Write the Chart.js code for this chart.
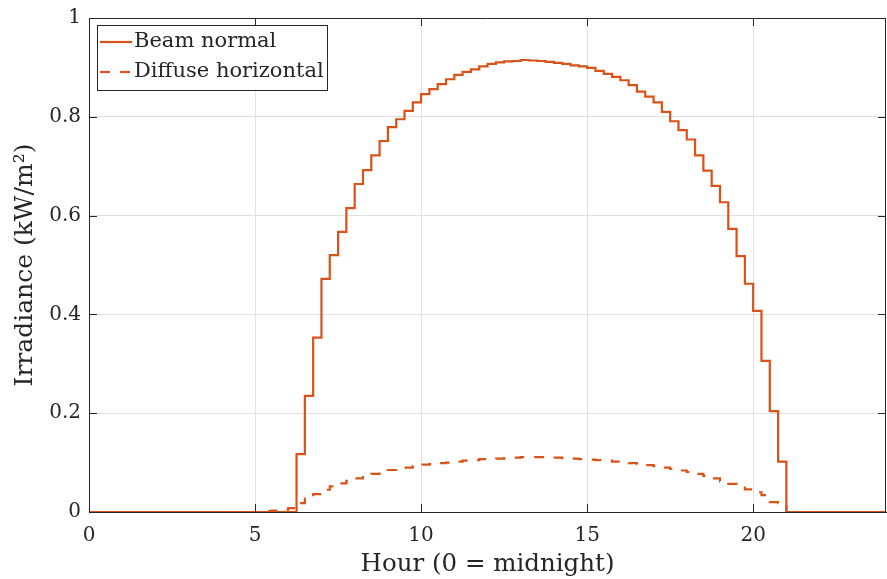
<!DOCTYPE html>
<html>
<head>
<meta charset="utf-8">
<script src="https://cdn.jsdelivr.net/npm/chart.js@4.4.1/dist/chart.umd.min.js"></script>
<style>
  html, body { margin: 0; padding: 0; background: #ffffff; }
  #wrap { width: 887px; height: 579px; position: relative; }
</style>
</head>
<body>
<div id="wrap"><canvas id="c" width="887" height="579"></canvas></div>
<script>
// Time step (hours) between samples: samples at 0, 0.25, ..., 24
const stepHours = 0.25;

// Beam normal irradiance (kW/m^2), one value per 15-minute interval starting at hour 0
const beamNormal = [
  0, 0, 0, 0, 0, 0, 0, 0,           // 0:00 - 1:45
  0, 0, 0, 0, 0, 0, 0, 0,           // 2:00 - 3:45
  0, 0, 0, 0, 0, 0, 0, 0,           // 4:00 - 5:45
  0, 0.117, 0.235, 0.353,           // 6:00 - 6:45
  0.472, 0.520, 0.567, 0.615,       // 7:00 - 7:45
  0.664, 0.692, 0.722, 0.751,       // 8:00 - 8:45
  0.779, 0.795, 0.812, 0.829,       // 9:00
  0.846, 0.856, 0.866, 0.876,       // 10:00
  0.885, 0.891, 0.896, 0.902,       // 11:00
  0.907, 0.910, 0.912, 0.913,       // 12:00
  0.915, 0.914, 0.913, 0.911,       // 13:00
  0.909, 0.907, 0.904, 0.902,       // 14:00
  0.899, 0.893, 0.887, 0.881,       // 15:00
  0.874, 0.864, 0.851, 0.841,       // 16:00
  0.829, 0.810, 0.791, 0.773,       // 17:00
  0.754, 0.722, 0.691, 0.660,       // 18:00
  0.627, 0.573, 0.518, 0.462,       // 19:00
  0.407, 0.306, 0.204, 0.102,       // 20:00
  0, 0, 0, 0, 0, 0, 0, 0,           // 21:00 - 22:45
  0, 0, 0, 0,                       // 23:00 - 23:45
  0                                 // 24:00
];

// Diffuse horizontal irradiance (kW/m^2)
const diffuseHorizontal = [
  0, 0, 0, 0, 0, 0, 0, 0,
  0, 0, 0, 0, 0, 0, 0, 0,
  0, 0, 0, 0, 0, 0.002, 0.003, 0.005,
  0.008, 0.018, 0.027, 0.036,       // 6:00
  0.045, 0.052, 0.058, 0.063,       // 7:00
  0.068, 0.073, 0.077, 0.081,       // 8:00
  0.085, 0.088, 0.090, 0.093,       // 9:00
  0.096, 0.097, 0.099, 0.100,       // 10:00
  0.102, 0.104, 0.105, 0.107,       // 11:00
  0.107, 0.108, 0.109, 0.110,       // 12:00
  0.111, 0.111, 0.111, 0.110,       // 13:00
  0.110, 0.109, 0.108, 0.107,       // 14:00
  0.106, 0.105, 0.104, 0.102,       // 15:00
  0.100, 0.099, 0.097, 0.095,       // 16:00
  0.093, 0.090, 0.087, 0.084,       // 17:00
  0.081, 0.077, 0.073, 0.068,       // 18:00
  0.062, 0.057, 0.052, 0.046,       // 19:00
  0.040, 0.034, 0.020, 0.018,       // 20:00
  0, 0, 0, 0, 0, 0, 0, 0,
  0, 0, 0, 0,
  0
];

const seriesNames = ['Beam normal', 'Diffuse horizontal'];
const xTitle = 'Hour (0 = midnight)';
const yTitle = 'Irradiance (kW/m\u00B2)';
const xTickValues = [0, 5, 10, 15, 20];
const yTickValues = [0, 0.2, 0.4, 0.6, 0.8, 1];

const lineColor = '#D95319';
const axisColor = '#262626';
const gridColor = '#e1e1e1';
const fontFamily = '"DejaVu Serif", "Liberation Serif", serif';

function toPoints(values) {
  return values.map((v, i) => ({ x: i * stepHours, y: v }));
}

const decor = {
  id: 'decor',
  afterDraw(chart) {
    const ctx = chart.ctx;
    const a = chart.chartArea;
    const xs = chart.scales.x, ys = chart.scales.y;
    ctx.save();
    ctx.strokeStyle = axisColor;
    ctx.lineWidth = 1;
    ctx.beginPath();
    ctx.moveTo(a.left, a.top + 0.5);
    ctx.lineTo(a.right, a.top + 0.5);
    ctx.moveTo(a.right - 0.5, a.top);
    ctx.lineTo(a.right - 0.5, a.bottom);
    ctx.stroke();
    const tl = 8;
    ctx.beginPath();
    xTickValues.forEach(v => {
      const px = Math.round(xs.getPixelForValue(v)) + 0.5;
      ctx.moveTo(px, a.bottom); ctx.lineTo(px, a.bottom - tl);
      ctx.moveTo(px, a.top); ctx.lineTo(px, a.top + tl);
    });
    yTickValues.forEach(v => {
      const py = Math.round(ys.getPixelForValue(v)) + 0.5;
      ctx.moveTo(a.left, py); ctx.lineTo(a.left + tl, py);
      ctx.moveTo(a.right, py); ctx.lineTo(a.right - tl, py);
    });
    ctx.stroke();

    const bx = 97.5, by = 25.5, bw = 230, bh = 65;
    ctx.fillStyle = '#ffffff';
    ctx.fillRect(bx, by, bw, bh);
    ctx.strokeStyle = axisColor;
    ctx.lineWidth = 1;
    ctx.strokeRect(bx, by, bw, bh);
    const rows = [42, 72];
    chart.data.datasets.forEach((ds, i) => {
      const y = rows[i];
      ctx.strokeStyle = ds.borderColor;
      ctx.lineWidth = ds.borderWidth;
      ctx.setLineDash(ds.borderDash || []);
      ctx.beginPath();
      ctx.moveTo(100, y);
      ctx.lineTo(132, y);
      ctx.stroke();
      ctx.setLineDash([]);
      ctx.fillStyle = axisColor;
      ctx.font = '21px ' + fontFamily;
      ctx.textBaseline = 'middle';
      ctx.textAlign = 'left';
      ctx.fillText(ds.label, 134, y);
    });
    ctx.restore();
  }
};

new Chart(document.getElementById('c'), {
  type: 'line',
  data: {
    datasets: [
      {
        label: seriesNames[0],
        data: toPoints(beamNormal),
        borderColor: lineColor,
        borderWidth: 2.2,
        stepped: 'before',
        pointRadius: 0,
        fill: false
      },
      {
        label: seriesNames[1],
        data: toPoints(diffuseHorizontal),
        borderColor: lineColor,
        borderWidth: 2.2,
        borderDash: [10, 10],
        stepped: 'before',
        pointRadius: 0,
        fill: false
      }
    ]
  },
  options: {
    responsive: false,
    animation: false,
    devicePixelRatio: 1,
    layout: { padding: { top: 16, right: 1, left: 0, bottom: 0 } },
    plugins: { legend: { display: false }, tooltip: { enabled: false } },
    scales: {
      x: {
        type: 'linear',
        min: 0, max: 24,
        afterBuildTicks(s) { s.ticks = xTickValues.map(v => ({ value: v })); },
        afterFit(s) { s.height = 67; },
        ticks: {
          font: { family: fontFamily, size: 20 },
          color: axisColor,
          padding: 12,
          maxRotation: 0,
          callback: v => String(v)
        },
        grid: { color: gridColor, drawTicks: false, lineWidth: 1 },
        border: { color: axisColor, width: 1 },
        title: {
          display: true, text: xTitle, color: axisColor,
          font: { family: fontFamily, size: 24.5 },
          padding: { top: 0, bottom: 0 }
        }
      },
      y: {
        type: 'linear',
        min: 0, max: 1,
        afterBuildTicks(s) { s.ticks = yTickValues.map(v => ({ value: v })); },
        afterFit(s) { s.width = 89; },
        ticks: {
          font: { family: fontFamily, size: 20, lineHeight: 1.0 },
          color: axisColor,
          padding: 8,
          callback: v => String(Math.round(v * 10) / 10)
        },
        grid: { color: gridColor, drawTicks: false, lineWidth: 1 },
        border: { color: axisColor, width: 1 },
        title: {
          display: true, text: yTitle, color: axisColor,
          font: { family: fontFamily, size: 25 },
          padding: { top: 10, bottom: 0 }
        }
      }
    }
  },
  plugins: [decor]
});
</script>
</body>
</html>
